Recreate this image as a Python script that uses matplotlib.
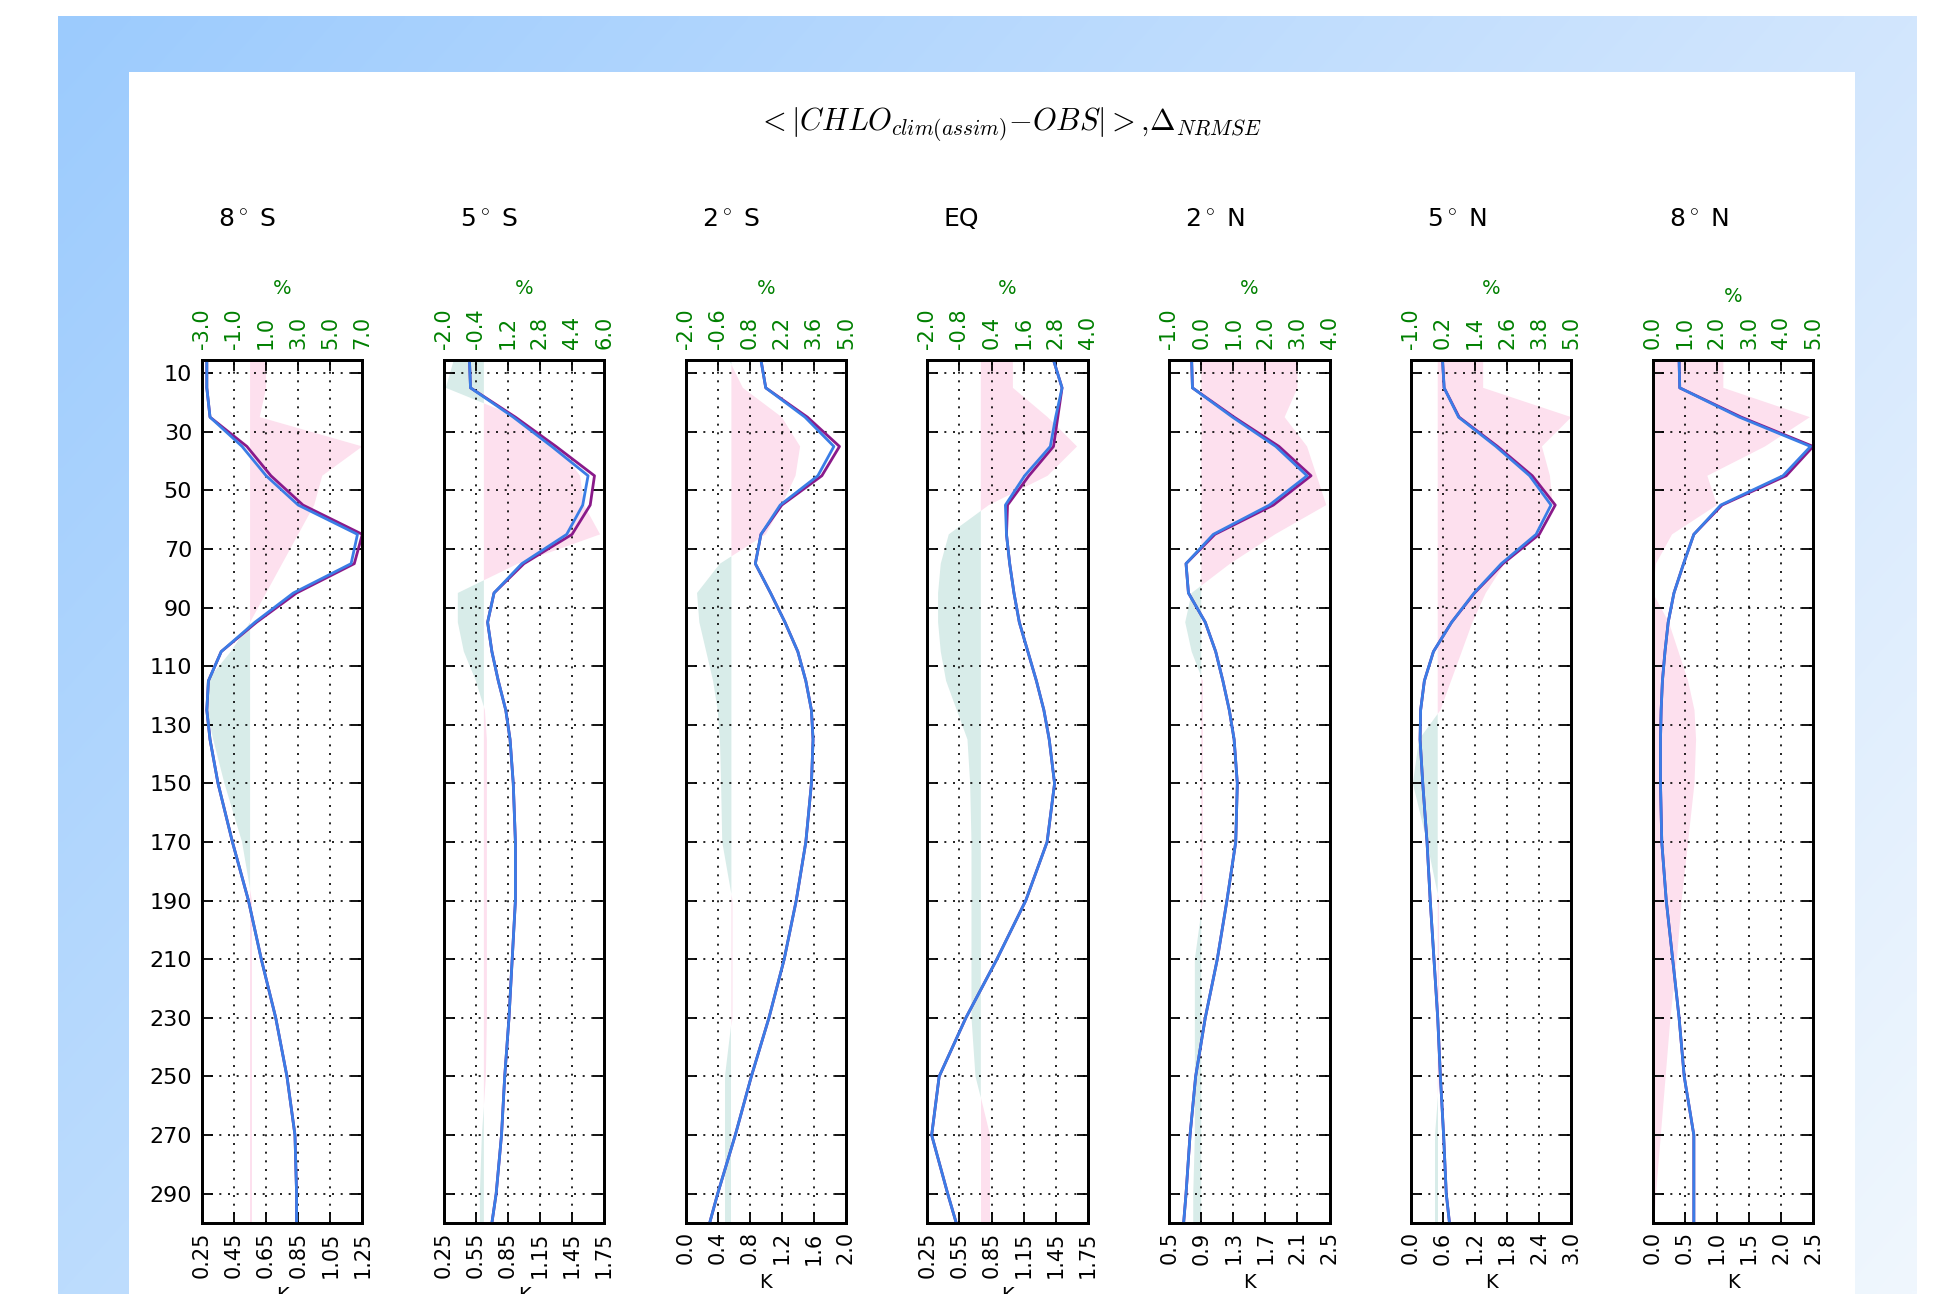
import numpy as np
import matplotlib
matplotlib.use("Agg")
import matplotlib.pyplot as plt
from matplotlib.patches import Rectangle

# ---------------- data ----------------
DEPTH = [5.5, 15, 25, 35, 45, 55, 65, 75, 85, 95, 105, 115, 125, 135, 150,
         170, 190, 210, 230, 250, 270, 290, 300]

TITLES = ["8$^\\circ$ S", "5$^\\circ$ S", "2$^\\circ$ S", "EQ",
          "2$^\\circ$ N", "5$^\\circ$ N", "8$^\\circ$ N"]

K_LIM = [(0.25, 1.25), (0.25, 1.75), (0.0, 2.0), (0.25, 1.75),
         (0.5, 2.5), (0.0, 3.0), (0.0, 2.5)]
K_TICKLABELS = [
    ["0.25", "0.45", "0.65", "0.85", "1.05", "1.25"],
    ["0.25", "0.55", "0.85", "1.15", "1.45", "1.75"],
    ["0.0", "0.4", "0.8", "1.2", "1.6", "2.0"],
    ["0.25", "0.55", "0.85", "1.15", "1.45", "1.75"],
    ["0.5", "0.9", "1.3", "1.7", "2.1", "2.5"],
    ["0.0", "0.6", "1.2", "1.8", "2.4", "3.0"],
    ["0.0", "0.5", "1.0", "1.5", "2.0", "2.5"],
]
PCT_LIM = [(-3.0, 7.0), (-2.0, 6.0), (-2.0, 5.0), (-2.0, 4.0),
           (-1.0, 4.0), (-1.0, 5.0), (0.0, 5.0)]
PCT_TICKLABELS = [
    ["-3.0", "-1.0", "1.0", "3.0", "5.0", "7.0"],
    ["-2.0", "-0.4", "1.2", "2.8", "4.4", "6.0"],
    ["-2.0", "-0.6", "0.8", "2.2", "3.6", "5.0"],
    ["-2.0", "-0.8", "0.4", "1.6", "2.8", "4.0"],
    ["-1.0", "0.0", "1.0", "2.0", "3.0", "4.0"],
    ["-1.0", "0.2", "1.4", "2.6", "3.8", "5.0"],
    ["0.0", "1.0", "2.0", "3.0", "4.0", "5.0"],
]
YTICKS = [10, 30, 50, 70, 90, 110, 130, 150, 170, 190, 210, 230, 250, 270, 290]

# |CHLO_assim - OBS| (K)
ASSIM_8S = [0.28, 0.28, 0.30, 0.50, 0.65, 0.85, 1.22, 1.18, 0.82, 0.58, 0.37, 0.29, 0.28,
            0.30, 0.35, 0.44, 0.54, 0.62, 0.71, 0.78, 0.83, 0.84, 0.84]
ASSIM_5S = [0.49, 0.50, 0.90, 1.26, 1.60, 1.55, 1.40, 0.98, 0.72, 0.66, 0.70, 0.76, 0.83,
            0.87, 0.90, 0.92, 0.92, 0.89, 0.86, 0.82, 0.79, 0.74, 0.70]
ASSIM_2S = [0.94, 1.00, 1.49, 1.85, 1.65, 1.18, 0.94, 0.87, 1.06, 1.24, 1.40, 1.50, 1.57,
            1.59, 1.57, 1.50, 1.38, 1.23, 1.04, 0.82, 0.62, 0.40, 0.30]
ASSIM_EQ = [1.43, 1.51, 1.45, 1.40, 1.16, 0.98, 0.99, 1.02, 1.06, 1.11, 1.19, 1.27, 1.34,
            1.39, 1.44, 1.37, 1.17, 0.90, 0.61, 0.36, 0.29, 0.44, 0.52]
ASSIM_2N = [0.78, 0.79, 1.29, 1.83, 2.22, 1.75, 1.05, 0.71, 0.74, 0.95, 1.08, 1.17, 1.25,
            1.31, 1.35, 1.33, 1.22, 1.10, 0.95, 0.83, 0.76, 0.71, 0.68]
ASSIM_5N = [0.59, 0.62, 0.89, 1.59, 2.22, 2.62, 2.34, 1.69, 1.18, 0.76, 0.42, 0.25, 0.18,
            0.17, 0.22, 0.30, 0.36, 0.43, 0.50, 0.55, 0.61, 0.66, 0.72]
ASSIM_8N = [0.41, 0.42, 1.35, 2.46, 2.03, 1.06, 0.64, 0.48, 0.33, 0.24, 0.19, 0.15, 0.13,
            0.12, 0.12, 0.14, 0.21, 0.31, 0.41, 0.49, 0.64, 0.64, 0.64]

# |CHLO_clim - OBS| (K)
CLIM_8S = [0.28, 0.28, 0.30, 0.53, 0.68, 0.88, 1.25, 1.20, 0.84, 0.59, 0.37, 0.29, 0.28,
           0.30, 0.35, 0.44, 0.54, 0.62, 0.71, 0.78, 0.83, 0.84, 0.84]
CLIM_5S = [0.49, 0.50, 0.92, 1.30, 1.66, 1.62, 1.45, 1.00, 0.72, 0.66, 0.70, 0.76, 0.83,
           0.87, 0.90, 0.92, 0.92, 0.89, 0.86, 0.82, 0.79, 0.74, 0.70]
CLIM_2S = [0.94, 1.00, 1.52, 1.92, 1.70, 1.20, 0.94, 0.87, 1.06, 1.24, 1.40, 1.50, 1.57,
           1.59, 1.57, 1.50, 1.38, 1.23, 1.04, 0.82, 0.62, 0.40, 0.30]
CLIM_EQ = [1.43, 1.51, 1.47, 1.43, 1.20, 1.00, 0.99, 1.02, 1.06, 1.11, 1.19, 1.27, 1.34,
           1.39, 1.44, 1.37, 1.17, 0.90, 0.61, 0.36, 0.29, 0.44, 0.52]
CLIM_2N = [0.78, 0.79, 1.31, 1.87, 2.27, 1.80, 1.07, 0.71, 0.74, 0.95, 1.08, 1.17, 1.25,
           1.31, 1.35, 1.33, 1.22, 1.10, 0.95, 0.83, 0.76, 0.71, 0.68]
CLIM_5N = [0.59, 0.62, 0.90, 1.62, 2.27, 2.70, 2.40, 1.72, 1.19, 0.76, 0.42, 0.25, 0.18,
           0.17, 0.22, 0.30, 0.36, 0.43, 0.50, 0.55, 0.61, 0.66, 0.72]
CLIM_8N = [0.41, 0.42, 1.38, 2.50, 2.08, 1.08, 0.64, 0.48, 0.33, 0.24, 0.19, 0.15, 0.13,
           0.12, 0.12, 0.14, 0.21, 0.31, 0.41, 0.49, 0.64, 0.64, 0.64]

# Delta NRMSE (%)
PCT_8S = [1.0, 1.0, 0.6, 7.0, 4.5, 4.0, 3.0, 2.0, 1.0, 0.0, -1.2, -2.7, -2.7,
          -2.3, -1.6, -0.5, 0.12, 0.12, 0.12, 0.12, 0.12, 0.12, 0.12]
PCT_5S = [-1.5, -1.9, 1.7, 3.7, 4.8, 5.0, 5.8, 1.7, -1.3, -1.3, -1.0, -0.4, 0.05,
          0.15, 0.15, 0.15, 0.15, 0.15, 0.15, 0.1, -0.1, -0.2, -0.2]
PCT_2S = [-0.1, 0.5, 2.2, 3.0, 2.8, 2.2, 1.5, -0.5, -1.5, -1.4, -1.1, -0.8, -0.6,
          -0.5, -0.45, -0.4, 0.05, 0.05, 0.05, -0.3, -0.3, -0.3, -0.3]
PCT_EQ = [1.2, 1.2, 2.5, 3.6, 2.5, 0.3, -1.2, -1.5, -1.6, -1.6, -1.5, -1.3, -0.9,
          -0.5, -0.4, -0.35, -0.35, -0.35, -0.35, -0.2, 0.35, 0.35, 0.35]
PCT_2N = [3.0, 3.0, 2.6, 3.3, 3.6, 3.9, 2.3, 0.9, -0.3, -0.5, -0.3, 0.05, 0.05,
          0.05, 0.05, 0.05, 0.05, -0.2, -0.2, -0.2, -0.2, -0.25, -0.25]
PCT_5N = [1.7, 1.7, 5.0, 3.9, 4.2, 4.3, 3.6, 2.5, 1.8, 1.3, 0.9, 0.5, 0.1,
          -0.7, -0.93, -0.4, 0.05, 0.05, 0.05, 0.05, -0.1, -0.1, -0.1]
PCT_8N = [2.2, 2.2, 4.9, 3.5, 1.7, 2.0, 0.6, 0.1, 0.0, 0.5, 0.8, 1.1, 1.3,
          1.35, 1.3, 1.1, 0.9, 0.75, 0.55, 0.4, 0.25, 0.1, 0.05]

ASSIM = [ASSIM_8S, ASSIM_5S, ASSIM_2S, ASSIM_EQ, ASSIM_2N, ASSIM_5N, ASSIM_8N]
CLIM = [CLIM_8S, CLIM_5S, CLIM_2S, CLIM_EQ, CLIM_2N, CLIM_5N, CLIM_8N]
PCT = [PCT_8S, PCT_5S, PCT_2S, PCT_EQ, PCT_2N, PCT_5N, PCT_8N]

# ---------------- figure ----------------
W, H = 1941, 1294
plt.rcParams['mathtext.fontset'] = 'cm'
plt.rcParams['font.family'] = 'DejaVu Sans'
fig = plt.figure(figsize=(W / 100, H / 100), dpi=100, facecolor='white')

# background frame with diagonal gradient
bg = fig.add_axes([0, 0, 1, 1], zorder=-10)
bg.set_xlim(0, W)
bg.set_ylim(H, 0)
bg.axis('off')
tl = np.array([156, 203, 254]) / 255.
tr = np.array([210, 230, 253]) / 255.
bl = np.array([188, 220, 253]) / 255.
br = np.array([240, 247, 254]) / 255.
u = np.linspace(0, 1, 200)[None, :, None]
v = np.linspace(0, 1, 200)[:, None, None]
grad = (1 - u) * (1 - v) * tl + u * (1 - v) * tr + (1 - u) * v * bl + u * v * br
bg.imshow(grad, extent=[58, 1917, H, 16], aspect='auto', interpolation='bilinear')
bg.add_patch(Rectangle((129, 72), 1855 - 129, H - 72, facecolor='white', edgecolor='none'))

fig.text(1009 / W, 1 - 130 / H,
         r'${<}|CHLO_{clim(assim)}{-}OBS|{>}{,}\Delta_{NRMSE}$',
         ha='center', va='baseline', fontsize=22)

PINK = '#fde0ee'
TEAL = '#d8ece9'
BLUE = '#3a7de6'
PURPLE = '#8a1a8a'
TICKSIZE = 15
GRIDSTYLE = (0, (1.2, 4.0))

ax_left0 = 202.0
step = 241.8
aw = 160.3
top_px, bot_px = 360.0, 1223.0
depth = np.array(DEPTH)

for i in range(7):
    left = ax_left0 + i * step
    rect = [left / W, 1 - bot_px / H, aw / W, (bot_px - top_px) / H]
    ax = fig.add_axes(rect)
    ax2 = ax.twiny()
    # put the % axis (fills) beneath the K axis (lines)
    ax.set_zorder(ax2.get_zorder() + 1)
    ax.patch.set_visible(False)

    pct = np.array(PCT[i])
    ax2.fill_betweenx(depth, 0, pct, where=pct >= 0, interpolate=True,
                      facecolor=PINK, edgecolor='none')
    ax2.fill_betweenx(depth, 0, pct, where=pct <= 0, interpolate=True,
                      facecolor=TEAL, edgecolor='none')
    p0, p1 = PCT_LIM[i]
    ax2.set_xlim(p0, p1)
    ax2.set_xticks(np.linspace(p0, p1, 6))
    ax2.set_xticklabels(PCT_TICKLABELS[i])
    ax2.tick_params(axis='x', direction='in', length=8, width=1.3, labelrotation=90,
                    labelcolor='g', labelsize=TICKSIZE, pad=8)
    ax2.set_xlabel('%', color='g', fontsize=14, labelpad=10)

    ax.plot(CLIM[i], depth, color=PURPLE, lw=2.0)
    ax.plot(ASSIM[i], depth, color=BLUE, lw=2.0)
    k0, k1 = K_LIM[i]
    ax.set_xlim(k0, k1)
    ax.set_xticks(np.linspace(k0, k1, 6))
    ax.set_xticklabels(K_TICKLABELS[i])
    ax.set_ylim(300, 5.5)
    ax2.set_ylim(300, 5.5)
    ax.set_yticks(YTICKS)
    if i == 0:
        ax.set_yticklabels([str(t) for t in YTICKS])
    else:
        ax.set_yticklabels([])
    ax.yaxis.set_ticks_position('both')
    ax.tick_params(axis='both', direction='in', length=8, width=1.3, labelsize=TICKSIZE)
    ax.tick_params(axis='y', labelsize=16, pad=7)
    ax.tick_params(axis='x', labelrotation=90, top=False, pad=6)
    ax.set_xlabel('K', fontsize=14, labelpad=6)
    ax.grid(True, color='k', linestyle=GRIDSTYLE, linewidth=1.2)
    for sp in list(ax.spines.values()) + list(ax2.spines.values()):
        sp.set_linewidth(2.0)

    fig.text((left + 16) / W, 1 - 207 / H, TITLES[i], ha='left', va='top', fontsize=18)

fig.savefig('out.png', dpi=100, facecolor='white')
